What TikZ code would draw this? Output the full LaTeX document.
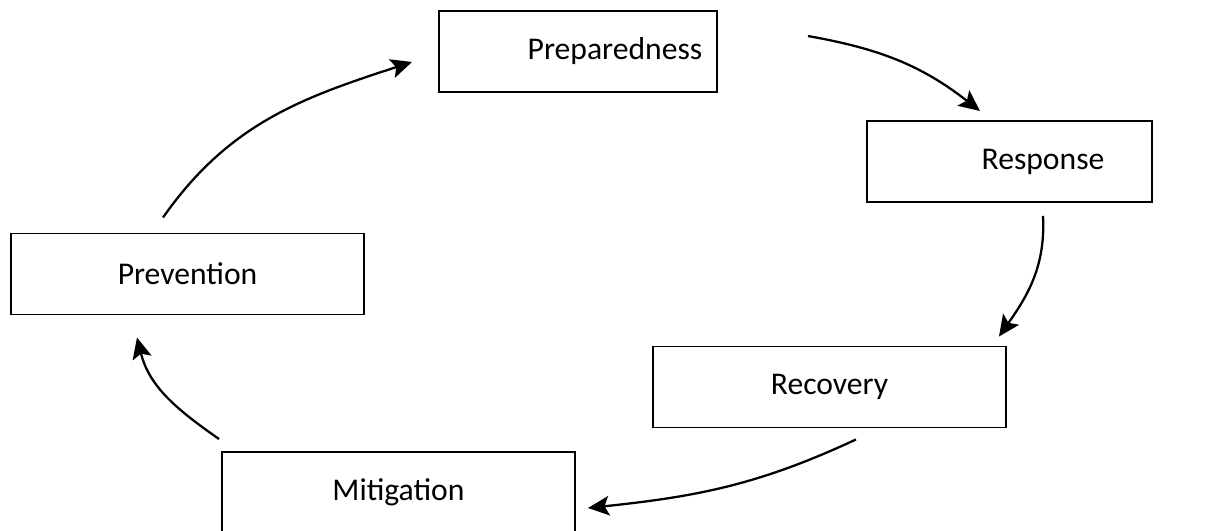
\documentclass[tikz,border=0pt]{standalone}
\usepackage{fontspec}
\setmainfont{Carlito}
\usepackage{tikz}
\usetikzlibrary{positioning}
\usetikzlibrary{arrows.meta}

\begin{document}
\begin{tikzpicture}[
    phase/.style={draw, line width=1.1pt, minimum height=1.62cm,
                  font=\fontsize{18}{22}\selectfont},
    cyc/.style={line width=1.3pt, -{Stealth[length=12pt,width=11pt,inset=2.5pt]}}
  ]

%---------------------------------------
% Frame
%---------------------------------------
\useasboundingbox (0,0) rectangle (24.24,10.62);

%---------------------------------------
% Phases of the cycle
%---------------------------------------
\node[phase, minimum width=5.56cm] (preparedness) at (11.56,9.59) {\hspace*{1.48cm}Preparedness};
\node[phase, minimum width=5.70cm] (response)     at (20.19,7.39) {\hspace*{1.34cm}Response};
\node[phase, minimum width=7.06cm] (prevention)   at (3.75,5.14)  {Prevention};
\node[phase, minimum width=7.06cm] (recovery)     at (16.59,2.88) {Recovery};
\node[phase, minimum width=7.06cm] (mitigation)   at (7.97,0.77)  {Mitigation};

%---------------------------------------
% Arrows between phases
%---------------------------------------
\draw[cyc] ([xshift=-0.49cm,yshift=0.30cm]prevention.north)
  to[out=55,in=198] ([xshift=-0.52cm,yshift=-0.21cm]preparedness.west);
\draw[cyc] ([xshift=1.80cm,yshift=-0.52cm]preparedness.north east)
  to[out=-10,in=142] ([xshift=-0.59cm,yshift=0.18cm]response.north);
\draw[cyc] ([xshift=0.67cm,yshift=-0.26cm]response.south)
  to[out=-87,in=55] ([xshift=-0.16cm,yshift=0.18cm]recovery.north east);
\draw[cyc] ([xshift=0.53cm,yshift=-0.22cm]recovery.south)
  to[out=205,in=6] ([xshift=0.24cm,yshift=-0.31cm]mitigation.east);
\draw[cyc] ([xshift=-0.04cm,yshift=0.24cm]mitigation.north west)
  to[out=145,in=-76] ([xshift=-1.01cm,yshift=-0.44cm]prevention.south);

\end{tikzpicture}
\end{document}
